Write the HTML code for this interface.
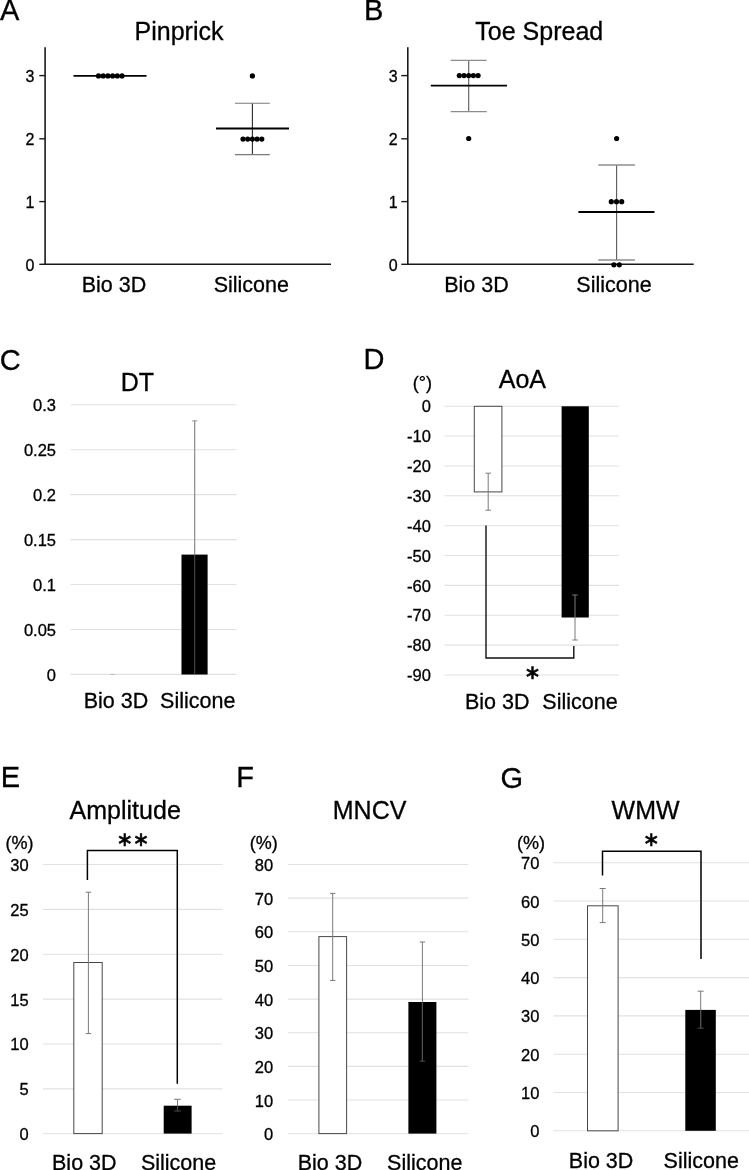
<!DOCTYPE html>
<html lang="en">
<head>
<meta charset="utf-8">
<title>Figure</title>
<style>
html,body{margin:0;padding:0;background:#fff;}
body{width:749px;height:1170px;overflow:hidden;}
svg{display:block;font-family:"Liberation Sans",Arial,Helvetica,sans-serif;fill:#000;}
</style>
</head>
<body>
<svg width="749" height="1170" viewBox="0 0 749 1170">
<rect width="749" height="1170" fill="#fff"/>
<text x="0" y="20.3" font-size="29" text-anchor="start" stroke="#000" stroke-width="0.3" >A</text>
<text x="179" y="40" font-size="25" text-anchor="middle" stroke="#000" stroke-width="0.3" >Pinprick</text>
<line x1="45.1" y1="47.3" x2="45.1" y2="265.1" stroke="#1a1a1a" stroke-width="1.6" />
<line x1="44.300000000000004" y1="264.3" x2="331" y2="264.3" stroke="#1a1a1a" stroke-width="1.6" />
<line x1="39.3" y1="75.6" x2="45.1" y2="75.6" stroke="#1a1a1a" stroke-width="1.4" />
<text x="34.3" y="81.89999999999999" font-size="16" text-anchor="end" stroke="#000" stroke-width="0.3" >3</text>
<line x1="39.3" y1="138.8" x2="45.1" y2="138.8" stroke="#1a1a1a" stroke-width="1.4" />
<text x="34.3" y="145.10000000000002" font-size="16" text-anchor="end" stroke="#000" stroke-width="0.3" >2</text>
<line x1="39.3" y1="201.6" x2="45.1" y2="201.6" stroke="#1a1a1a" stroke-width="1.4" />
<text x="34.3" y="207.9" font-size="16" text-anchor="end" stroke="#000" stroke-width="0.3" >1</text>
<line x1="39.3" y1="264.3" x2="45.1" y2="264.3" stroke="#1a1a1a" stroke-width="1.4" />
<text x="34.3" y="270.6" font-size="16" text-anchor="end" stroke="#000" stroke-width="0.3" >0</text>
<line x1="73.5" y1="75.9" x2="146.5" y2="75.9" stroke="#000" stroke-width="1.8" />
<circle cx="98.5" cy="75.9" r="2.6" fill="#000"/>
<circle cx="103.2" cy="75.9" r="2.6" fill="#000"/>
<circle cx="107.9" cy="75.9" r="2.6" fill="#000"/>
<circle cx="112.6" cy="75.9" r="2.6" fill="#000"/>
<circle cx="117.3" cy="75.9" r="2.6" fill="#000"/>
<circle cx="122.0" cy="75.9" r="2.6" fill="#000"/>
<line x1="252.4" y1="103.2" x2="252.4" y2="154.6" stroke="#2a2a2a" stroke-width="1.1" />
<line x1="235" y1="103.2" x2="269.8" y2="103.2" stroke="#7a7a7a" stroke-width="1.1" />
<line x1="235" y1="154.6" x2="269.8" y2="154.6" stroke="#7a7a7a" stroke-width="1.1" />
<line x1="216" y1="128.5" x2="289" y2="128.5" stroke="#000" stroke-width="1.8" />
<circle cx="252.4" cy="75.9" r="2.6" fill="#000"/>
<circle cx="243.0" cy="139.1" r="2.6" fill="#000"/>
<circle cx="247.7" cy="139.1" r="2.6" fill="#000"/>
<circle cx="252.4" cy="139.1" r="2.6" fill="#000"/>
<circle cx="257.1" cy="139.1" r="2.6" fill="#000"/>
<circle cx="261.8" cy="139.1" r="2.6" fill="#000"/>
<text x="114" y="292.3" font-size="21.5" text-anchor="middle" stroke="#000" stroke-width="0.3" >Bio 3D</text>
<text x="251.3" y="292.3" font-size="21.5" text-anchor="middle" stroke="#000" stroke-width="0.3" >Silicone</text>
<text x="363.9" y="20.3" font-size="29" text-anchor="start" stroke="#000" stroke-width="0.3" >B</text>
<text x="539.3" y="40" font-size="25" text-anchor="middle" stroke="#000" stroke-width="0.3" >Toe Spread</text>
<line x1="407.8" y1="47.3" x2="407.8" y2="265.1" stroke="#1a1a1a" stroke-width="1.6" />
<line x1="407.0" y1="264.3" x2="693.7" y2="264.3" stroke="#1a1a1a" stroke-width="1.6" />
<line x1="401.3" y1="75.6" x2="407.8" y2="75.6" stroke="#1a1a1a" stroke-width="1.4" />
<text x="397.7" y="81.89999999999999" font-size="16" text-anchor="end" stroke="#000" stroke-width="0.3" >3</text>
<line x1="401.3" y1="138.8" x2="407.8" y2="138.8" stroke="#1a1a1a" stroke-width="1.4" />
<text x="397.7" y="145.10000000000002" font-size="16" text-anchor="end" stroke="#000" stroke-width="0.3" >2</text>
<line x1="401.3" y1="201.6" x2="407.8" y2="201.6" stroke="#1a1a1a" stroke-width="1.4" />
<text x="397.7" y="207.9" font-size="16" text-anchor="end" stroke="#000" stroke-width="0.3" >1</text>
<line x1="401.3" y1="264.3" x2="407.8" y2="264.3" stroke="#1a1a1a" stroke-width="1.4" />
<text x="397.7" y="270.6" font-size="16" text-anchor="end" stroke="#000" stroke-width="0.3" >0</text>
<line x1="468.7" y1="60.3" x2="468.7" y2="111.6" stroke="#5a5a5a" stroke-width="1.1" />
<line x1="450.7" y1="60.3" x2="486.7" y2="60.3" stroke="#8c8c8c" stroke-width="1.3" />
<line x1="450.7" y1="111.6" x2="486.7" y2="111.6" stroke="#8c8c8c" stroke-width="1.3" />
<line x1="430.8" y1="85.7" x2="507" y2="85.7" stroke="#000" stroke-width="1.8" />
<circle cx="459.3" cy="75.6" r="2.6" fill="#000"/>
<circle cx="464.0" cy="75.6" r="2.6" fill="#000"/>
<circle cx="468.7" cy="75.6" r="2.6" fill="#000"/>
<circle cx="473.40000000000003" cy="75.6" r="2.6" fill="#000"/>
<circle cx="478.1" cy="75.6" r="2.6" fill="#000"/>
<circle cx="468.7" cy="138.5" r="2.6" fill="#000"/>
<line x1="616.6" y1="165" x2="616.6" y2="260" stroke="#5a5a5a" stroke-width="1.1" />
<line x1="598.3" y1="165" x2="634.9" y2="165" stroke="#8c8c8c" stroke-width="1.3" />
<line x1="598.3" y1="260" x2="634.9" y2="260" stroke="#8c8c8c" stroke-width="1.3" />
<line x1="578.4" y1="212" x2="654.5" y2="212" stroke="#000" stroke-width="1.8" />
<circle cx="616.6" cy="138.5" r="2.6" fill="#000"/>
<circle cx="611.3" cy="201.7" r="2.6" fill="#000"/>
<circle cx="616.5" cy="201.7" r="2.6" fill="#000"/>
<circle cx="621.7" cy="201.7" r="2.6" fill="#000"/>
<circle cx="613.9" cy="264.8" r="2.6" fill="#000"/>
<circle cx="619.3" cy="264.8" r="2.6" fill="#000"/>
<text x="476.5" y="292.3" font-size="21.5" text-anchor="middle" stroke="#000" stroke-width="0.3" >Bio 3D</text>
<text x="614" y="292.3" font-size="21.5" text-anchor="middle" stroke="#000" stroke-width="0.3" >Silicone</text>
<text x="-0.2" y="369.6" font-size="29" text-anchor="start" stroke="#000" stroke-width="0.3" >C</text>
<text x="137.3" y="390.6" font-size="25" text-anchor="middle" stroke="#000" stroke-width="0.3" >DT</text>
<line x1="70.5" y1="404.8" x2="236.5" y2="404.8" stroke="#e1e1e1" stroke-width="1.1" />
<text x="56" y="411.0" font-size="16.5" text-anchor="end" stroke="#000" stroke-width="0.3" >0.3</text>
<line x1="70.5" y1="449.73" x2="236.5" y2="449.73" stroke="#e1e1e1" stroke-width="1.1" />
<text x="56" y="455.93" font-size="16.5" text-anchor="end" stroke="#000" stroke-width="0.3" >0.25</text>
<line x1="70.5" y1="494.66" x2="236.5" y2="494.66" stroke="#e1e1e1" stroke-width="1.1" />
<text x="56" y="500.86" font-size="16.5" text-anchor="end" stroke="#000" stroke-width="0.3" >0.2</text>
<line x1="70.5" y1="539.59" x2="236.5" y2="539.59" stroke="#e1e1e1" stroke-width="1.1" />
<text x="56" y="545.7900000000001" font-size="16.5" text-anchor="end" stroke="#000" stroke-width="0.3" >0.15</text>
<line x1="70.5" y1="584.52" x2="236.5" y2="584.52" stroke="#e1e1e1" stroke-width="1.1" />
<text x="56" y="590.72" font-size="16.5" text-anchor="end" stroke="#000" stroke-width="0.3" >0.1</text>
<line x1="70.5" y1="629.45" x2="236.5" y2="629.45" stroke="#e1e1e1" stroke-width="1.1" />
<text x="56" y="635.6500000000001" font-size="16.5" text-anchor="end" stroke="#000" stroke-width="0.3" >0.05</text>
<line x1="70.5" y1="674.38" x2="236.5" y2="674.38" stroke="#e1e1e1" stroke-width="1.1" />
<text x="56" y="680.58" font-size="16.5" text-anchor="end" stroke="#000" stroke-width="0.3" >0</text>
<rect x="181.5" y="554.6" width="26.1" height="119.89999999999998" fill="#000"/>
<line x1="194.7" y1="420.9" x2="194.7" y2="554.6" stroke="#808080" stroke-width="1.1" />
<line x1="194.7" y1="554.6" x2="194.7" y2="674.3" stroke="#505050" stroke-width="1" />
<line x1="192.2" y1="420.9" x2="197.2" y2="420.9" stroke="#8c8c8c" stroke-width="1" />
<line x1="110" y1="674.5" x2="115" y2="674.5" stroke="#bbb" stroke-width="1" />
<text x="116" y="708.3" font-size="21.5" text-anchor="middle" stroke="#000" stroke-width="0.3" >Bio 3D</text>
<text x="197.7" y="708.3" font-size="21.5" text-anchor="middle" stroke="#000" stroke-width="0.3" >Silicone</text>
<text x="363.4" y="368.6" font-size="29" text-anchor="start" stroke="#000" stroke-width="0.3" >D</text>
<text x="522.4" y="388" font-size="25" text-anchor="middle" stroke="#000" stroke-width="0.3" >AoA</text>
<text x="422.4" y="389.3" font-size="18" text-anchor="middle" stroke="#000" stroke-width="0.3" >(°)</text>
<line x1="444.5" y1="406.2" x2="619" y2="406.2" stroke="#e1e1e1" stroke-width="1.1" />
<text x="430.9" y="412.4" font-size="16.5" text-anchor="end" stroke="#000" stroke-width="0.3" >0</text>
<line x1="444.5" y1="436.07" x2="619" y2="436.07" stroke="#e1e1e1" stroke-width="1.1" />
<text x="430.9" y="442.27" font-size="16.5" text-anchor="end" stroke="#000" stroke-width="0.3" >-10</text>
<line x1="444.5" y1="465.94" x2="619" y2="465.94" stroke="#e1e1e1" stroke-width="1.1" />
<text x="430.9" y="472.14" font-size="16.5" text-anchor="end" stroke="#000" stroke-width="0.3" >-20</text>
<line x1="444.5" y1="495.81" x2="619" y2="495.81" stroke="#e1e1e1" stroke-width="1.1" />
<text x="430.9" y="502.01" font-size="16.5" text-anchor="end" stroke="#000" stroke-width="0.3" >-30</text>
<line x1="444.5" y1="525.68" x2="619" y2="525.68" stroke="#e1e1e1" stroke-width="1.1" />
<text x="430.9" y="531.88" font-size="16.5" text-anchor="end" stroke="#000" stroke-width="0.3" >-40</text>
<line x1="444.5" y1="555.55" x2="619" y2="555.55" stroke="#e1e1e1" stroke-width="1.1" />
<text x="430.9" y="561.75" font-size="16.5" text-anchor="end" stroke="#000" stroke-width="0.3" >-50</text>
<line x1="444.5" y1="585.42" x2="619" y2="585.42" stroke="#e1e1e1" stroke-width="1.1" />
<text x="430.9" y="591.62" font-size="16.5" text-anchor="end" stroke="#000" stroke-width="0.3" >-60</text>
<line x1="444.5" y1="615.29" x2="619" y2="615.29" stroke="#e1e1e1" stroke-width="1.1" />
<text x="430.9" y="621.49" font-size="16.5" text-anchor="end" stroke="#000" stroke-width="0.3" >-70</text>
<line x1="444.5" y1="645.16" x2="619" y2="645.16" stroke="#e1e1e1" stroke-width="1.1" />
<text x="430.9" y="651.36" font-size="16.5" text-anchor="end" stroke="#000" stroke-width="0.3" >-80</text>
<line x1="444.5" y1="675.03" x2="619" y2="675.03" stroke="#e1e1e1" stroke-width="1.1" />
<text x="430.9" y="681.23" font-size="16.5" text-anchor="end" stroke="#000" stroke-width="0.3" >-90</text>
<rect x="474.3" y="406.3" width="27.6" height="85.59999999999997" fill="#fff" stroke="#484848" stroke-width="1"/>
<line x1="488.2" y1="473.2" x2="488.2" y2="510.2" stroke="#7a7a7a" stroke-width="1.0" />
<line x1="485.5" y1="473.2" x2="490.9" y2="473.2" stroke="#7a7a7a" stroke-width="1.0" />
<line x1="485.5" y1="510.2" x2="490.9" y2="510.2" stroke="#7a7a7a" stroke-width="1.0" />
<rect x="561.6" y="406.3" width="27.2" height="211.2" fill="#000"/>
<line x1="575" y1="595" x2="575" y2="640" stroke="#7a7a7a" stroke-width="1.0" />
<line x1="572.3" y1="595" x2="577.7" y2="595" stroke="#7a7a7a" stroke-width="1.0" />
<line x1="572.3" y1="640" x2="577.7" y2="640" stroke="#7a7a7a" stroke-width="1.0" />
<polyline points="486,525.5 486,658 573.8,658 573.8,646" fill="none" stroke="#111" stroke-width="1.4"/>
<text x="524.2" y="679.2" font-size="20" font-family="'DejaVu Sans',sans-serif" letter-spacing="-0.5" stroke="#000" stroke-width="0.6">∗</text>
<text x="497.2" y="708.8" font-size="21.5" text-anchor="middle" stroke="#000" stroke-width="0.3" >Bio 3D</text>
<text x="580" y="708.8" font-size="21.5" text-anchor="middle" stroke="#000" stroke-width="0.3" >Silicone</text>
<text x="0.8" y="787.4" font-size="29" text-anchor="start" stroke="#000" stroke-width="0.3" >E</text>
<text x="125.2" y="819" font-size="25" text-anchor="middle" stroke="#000" stroke-width="0.3" >Amplitude</text>
<text x="19.4" y="848.8" font-size="18" text-anchor="middle" stroke="#000" stroke-width="0.3" >(%)</text>
<line x1="43" y1="864.5" x2="222.5" y2="864.5" stroke="#e1e1e1" stroke-width="1.1" />
<text x="28.7" y="871.0" font-size="16.5" text-anchor="end" stroke="#000" stroke-width="0.3" >30</text>
<line x1="43" y1="909.37" x2="222.5" y2="909.37" stroke="#e1e1e1" stroke-width="1.1" />
<text x="28.7" y="915.87" font-size="16.5" text-anchor="end" stroke="#000" stroke-width="0.3" >25</text>
<line x1="43" y1="954.24" x2="222.5" y2="954.24" stroke="#e1e1e1" stroke-width="1.1" />
<text x="28.7" y="960.74" font-size="16.5" text-anchor="end" stroke="#000" stroke-width="0.3" >20</text>
<line x1="43" y1="999.11" x2="222.5" y2="999.11" stroke="#e1e1e1" stroke-width="1.1" />
<text x="28.7" y="1005.61" font-size="16.5" text-anchor="end" stroke="#000" stroke-width="0.3" >15</text>
<line x1="43" y1="1043.98" x2="222.5" y2="1043.98" stroke="#e1e1e1" stroke-width="1.1" />
<text x="28.7" y="1050.48" font-size="16.5" text-anchor="end" stroke="#000" stroke-width="0.3" >10</text>
<line x1="43" y1="1088.85" x2="222.5" y2="1088.85" stroke="#e1e1e1" stroke-width="1.1" />
<text x="28.7" y="1095.35" font-size="16.5" text-anchor="end" stroke="#000" stroke-width="0.3" >5</text>
<line x1="43" y1="1133.72" x2="222.5" y2="1133.72" stroke="#e1e1e1" stroke-width="1.1" />
<text x="28.7" y="1140.22" font-size="16.5" text-anchor="end" stroke="#000" stroke-width="0.3" >0</text>
<rect x="73.8" y="962.5" width="28.4" height="171.0999999999999" fill="#fff" stroke="#484848" stroke-width="1"/>
<line x1="88.4" y1="892.2" x2="88.4" y2="1033.6" stroke="#7a7a7a" stroke-width="1.0" />
<line x1="85.7" y1="892.2" x2="91.10000000000001" y2="892.2" stroke="#7a7a7a" stroke-width="1.0" />
<line x1="85.7" y1="1033.6" x2="91.10000000000001" y2="1033.6" stroke="#7a7a7a" stroke-width="1.0" />
<rect x="163.7" y="1105.7" width="27.9" height="27.899999999999864" fill="#000"/>
<line x1="177.5" y1="1099.3" x2="177.5" y2="1111" stroke="#7a7a7a" stroke-width="1.0" />
<line x1="174.2" y1="1099.3" x2="180.8" y2="1099.3" stroke="#7a7a7a" stroke-width="1.0" />
<line x1="177.5" y1="1105.7" x2="177.5" y2="1111" stroke="#4d4d4d" stroke-width="1.0" />
<line x1="174.2" y1="1111" x2="180.8" y2="1111" stroke="#4d4d4d" stroke-width="1.0" />
<polyline points="87.4,880 87.4,850.5 177.3,850.5 177.3,1083.8" fill="none" stroke="#000" stroke-width="1.5"/>
<text x="116.5" y="845.5" font-size="20" font-family="'DejaVu Sans',sans-serif" letter-spacing="-0.5" stroke="#000" stroke-width="0.6">∗∗</text>
<text x="84.3" y="1170" font-size="21.5" text-anchor="middle" stroke="#000" stroke-width="0.3" >Bio 3D</text>
<text x="178.6" y="1170" font-size="21.5" text-anchor="middle" stroke="#000" stroke-width="0.3" >Silicone</text>
<text x="236.3" y="787.4" font-size="29" text-anchor="start" stroke="#000" stroke-width="0.3" >F</text>
<text x="369.6" y="819" font-size="25" text-anchor="middle" stroke="#000" stroke-width="0.3" >MNCV</text>
<text x="263.7" y="848.8" font-size="18" text-anchor="middle" stroke="#000" stroke-width="0.3" >(%)</text>
<line x1="288" y1="864.5" x2="468.4" y2="864.5" stroke="#e1e1e1" stroke-width="1.1" />
<text x="273.2" y="871.0" font-size="16.5" text-anchor="end" stroke="#000" stroke-width="0.3" >80</text>
<line x1="288" y1="898.15" x2="468.4" y2="898.15" stroke="#e1e1e1" stroke-width="1.1" />
<text x="273.2" y="904.65" font-size="16.5" text-anchor="end" stroke="#000" stroke-width="0.3" >70</text>
<line x1="288" y1="931.8" x2="468.4" y2="931.8" stroke="#e1e1e1" stroke-width="1.1" />
<text x="273.2" y="938.3" font-size="16.5" text-anchor="end" stroke="#000" stroke-width="0.3" >60</text>
<line x1="288" y1="965.45" x2="468.4" y2="965.45" stroke="#e1e1e1" stroke-width="1.1" />
<text x="273.2" y="971.95" font-size="16.5" text-anchor="end" stroke="#000" stroke-width="0.3" >50</text>
<line x1="288" y1="999.1" x2="468.4" y2="999.1" stroke="#e1e1e1" stroke-width="1.1" />
<text x="273.2" y="1005.6" font-size="16.5" text-anchor="end" stroke="#000" stroke-width="0.3" >40</text>
<line x1="288" y1="1032.75" x2="468.4" y2="1032.75" stroke="#e1e1e1" stroke-width="1.1" />
<text x="273.2" y="1039.25" font-size="16.5" text-anchor="end" stroke="#000" stroke-width="0.3" >30</text>
<line x1="288" y1="1066.4" x2="468.4" y2="1066.4" stroke="#e1e1e1" stroke-width="1.1" />
<text x="273.2" y="1072.9" font-size="16.5" text-anchor="end" stroke="#000" stroke-width="0.3" >20</text>
<line x1="288" y1="1100.05" x2="468.4" y2="1100.05" stroke="#e1e1e1" stroke-width="1.1" />
<text x="273.2" y="1106.55" font-size="16.5" text-anchor="end" stroke="#000" stroke-width="0.3" >10</text>
<line x1="288" y1="1133.7" x2="468.4" y2="1133.7" stroke="#e1e1e1" stroke-width="1.1" />
<text x="273.2" y="1140.2" font-size="16.5" text-anchor="end" stroke="#000" stroke-width="0.3" >0</text>
<rect x="318.9" y="936.6" width="27.7" height="196.9999999999999" fill="#fff" stroke="#484848" stroke-width="1"/>
<line x1="332.7" y1="893.4" x2="332.7" y2="980.4" stroke="#7a7a7a" stroke-width="1.0" />
<line x1="330.0" y1="893.4" x2="335.4" y2="893.4" stroke="#7a7a7a" stroke-width="1.0" />
<line x1="330.0" y1="980.4" x2="335.4" y2="980.4" stroke="#7a7a7a" stroke-width="1.0" />
<rect x="408.4" y="1002" width="28" height="131.5999999999999" fill="#000"/>
<line x1="422.4" y1="942" x2="422.4" y2="1061.2" stroke="#7a7a7a" stroke-width="1.0" />
<line x1="419.7" y1="942" x2="425.09999999999997" y2="942" stroke="#7a7a7a" stroke-width="1.0" />
<line x1="422.4" y1="1002" x2="422.4" y2="1061.2" stroke="#4d4d4d" stroke-width="1.0" />
<line x1="419.7" y1="1061.2" x2="425.09999999999997" y2="1061.2" stroke="#4d4d4d" stroke-width="1.0" />
<text x="330" y="1170" font-size="21.5" text-anchor="middle" stroke="#000" stroke-width="0.3" >Bio 3D</text>
<text x="424.7" y="1170" font-size="21.5" text-anchor="middle" stroke="#000" stroke-width="0.3" >Silicone</text>
<text x="500.6" y="787.6" font-size="29" text-anchor="start" stroke="#000" stroke-width="0.3" >G</text>
<text x="645.6" y="818.8" font-size="25" text-anchor="middle" stroke="#000" stroke-width="0.3" >WMW</text>
<text x="531" y="848.8" font-size="18" text-anchor="middle" stroke="#000" stroke-width="0.3" >(%)</text>
<line x1="553.6" y1="862.7" x2="749" y2="862.7" stroke="#e1e1e1" stroke-width="1.1" />
<text x="539.4" y="869.2" font-size="16.5" text-anchor="end" stroke="#000" stroke-width="0.3" >70</text>
<line x1="553.6" y1="901.0" x2="749" y2="901.0" stroke="#e1e1e1" stroke-width="1.1" />
<text x="539.4" y="907.5" font-size="16.5" text-anchor="end" stroke="#000" stroke-width="0.3" >60</text>
<line x1="553.6" y1="939.3000000000001" x2="749" y2="939.3000000000001" stroke="#e1e1e1" stroke-width="1.1" />
<text x="539.4" y="945.8000000000001" font-size="16.5" text-anchor="end" stroke="#000" stroke-width="0.3" >50</text>
<line x1="553.6" y1="977.6" x2="749" y2="977.6" stroke="#e1e1e1" stroke-width="1.1" />
<text x="539.4" y="984.1" font-size="16.5" text-anchor="end" stroke="#000" stroke-width="0.3" >40</text>
<line x1="553.6" y1="1015.9000000000001" x2="749" y2="1015.9000000000001" stroke="#e1e1e1" stroke-width="1.1" />
<text x="539.4" y="1022.4000000000001" font-size="16.5" text-anchor="end" stroke="#000" stroke-width="0.3" >30</text>
<line x1="553.6" y1="1054.2" x2="749" y2="1054.2" stroke="#e1e1e1" stroke-width="1.1" />
<text x="539.4" y="1060.7" font-size="16.5" text-anchor="end" stroke="#000" stroke-width="0.3" >20</text>
<line x1="553.6" y1="1092.5" x2="749" y2="1092.5" stroke="#e1e1e1" stroke-width="1.1" />
<text x="539.4" y="1099.0" font-size="16.5" text-anchor="end" stroke="#000" stroke-width="0.3" >10</text>
<line x1="553.6" y1="1130.8" x2="749" y2="1130.8" stroke="#e1e1e1" stroke-width="1.1" />
<text x="539.4" y="1137.3" font-size="16.5" text-anchor="end" stroke="#000" stroke-width="0.3" >0</text>
<rect x="587.5" y="905.8" width="30.6" height="225.0" fill="#fff" stroke="#484848" stroke-width="1"/>
<line x1="602.7" y1="888.5" x2="602.7" y2="922.6" stroke="#7a7a7a" stroke-width="1.0" />
<line x1="599.7" y1="888.5" x2="605.7" y2="888.5" stroke="#7a7a7a" stroke-width="1.0" />
<line x1="599.7" y1="922.6" x2="605.7" y2="922.6" stroke="#7a7a7a" stroke-width="1.0" />
<rect x="685.3" y="1009.9" width="30.5" height="120.89999999999998" fill="#000"/>
<line x1="700.7" y1="991.2" x2="700.7" y2="1028.2" stroke="#7a7a7a" stroke-width="1.0" />
<line x1="697.7" y1="991.2" x2="703.7" y2="991.2" stroke="#7a7a7a" stroke-width="1.0" />
<line x1="700.7" y1="1009.9" x2="700.7" y2="1028.2" stroke="#4d4d4d" stroke-width="1.0" />
<line x1="697.7" y1="1028.2" x2="703.7" y2="1028.2" stroke="#4d4d4d" stroke-width="1.0" />
<polyline points="602.5,875.4 602.5,851.3 701,851.3 701,958.9" fill="none" stroke="#000" stroke-width="1.5"/>
<text x="642.9" y="846.4" font-size="20" font-family="'DejaVu Sans',sans-serif" letter-spacing="-0.5" stroke="#000" stroke-width="0.6">∗</text>
<text x="601.1" y="1168" font-size="21.5" text-anchor="middle" stroke="#000" stroke-width="0.3" >Bio 3D</text>
<text x="701.2" y="1168" font-size="21.5" text-anchor="middle" stroke="#000" stroke-width="0.3" >Silicone</text>
</svg>
</body>
</html>
